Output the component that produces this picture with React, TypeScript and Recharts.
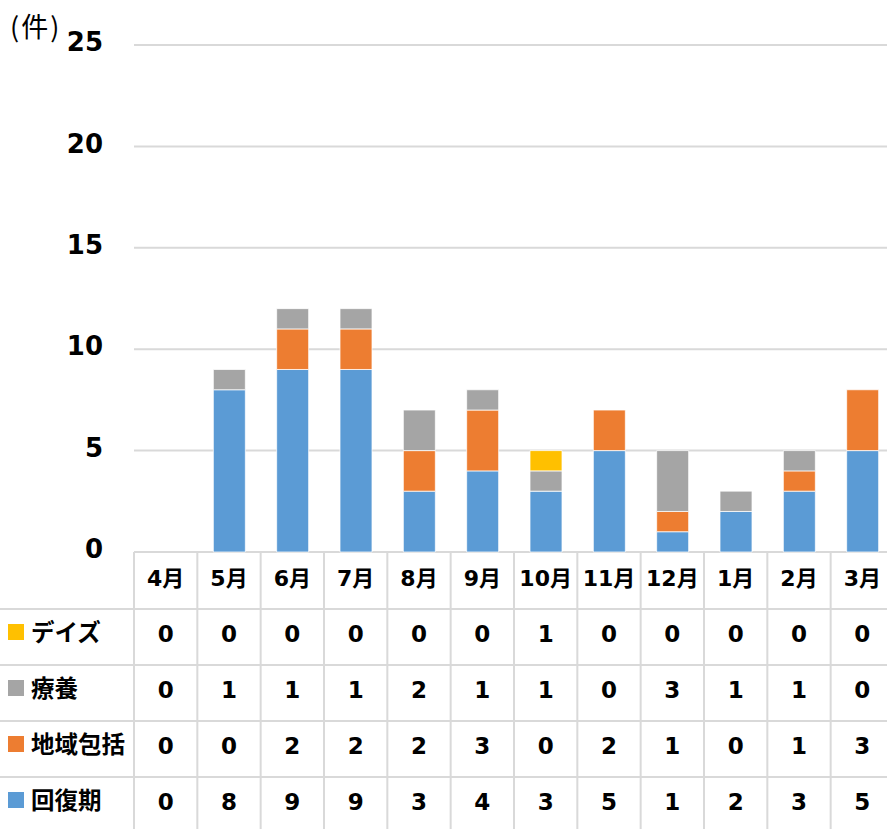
import React from 'react';
import { BarChart, Bar, XAxis, YAxis, CartesianGrid } from 'recharts';

const MONTHS = ['4月', '5月', '6月', '7月', '8月', '9月', '10月', '11月', '12月', '1月', '2月', '3月'];
const KAIFUKU = [0, 8, 9, 9, 3, 4, 3, 5, 1, 2, 3, 5];
const CHIIKI = [0, 0, 2, 2, 2, 3, 0, 2, 1, 0, 1, 3];
const RYOYO = [0, 1, 1, 1, 2, 1, 1, 0, 3, 1, 1, 0];
const DAYS = [0, 0, 0, 0, 0, 0, 1, 0, 0, 0, 0, 0];
const Y_TICKS = [0, 5, 10, 15, 20, 25];

// table rows, top to bottom (reverse of stacking order)
const SERIES = [
  { key: 'days', name: 'デイズ', color: '#FFC000', values: DAYS },
  { key: 'ryoyo', name: '療養', color: '#A5A5A5', values: RYOYO },
  { key: 'chiiki', name: '地域包括', color: '#ED7D31', values: CHIIKI },
  { key: 'kaifuku', name: '回復期', color: '#5B9BD5', values: KAIFUKU },
];

const data = MONTHS.map((m, i) => ({
  month: m,
  kaifuku: KAIFUKU[i],
  chiiki: CHIIKI[i],
  ryoyo: RYOYO[i],
  days: DAYS[i],
}));

const W = 894;
const H = 829;
const PLOT_LEFT = 134;
const PLOT_TOP = 45;
const TABLE_TOP = 552;
const HEADER_H = 57;
const ROW_H = 56;
const LINE = '#D9D9D9';
const NUM_FONT = "'DejaVu Sans', 'Noto Sans CJK JP', sans-serif";
const JP_FONT = "'Noto Sans CJK JP', sans-serif";

const YTick = ({ y, payload }: any) => (
  <text x={103} y={y - 3} dy="0.355em" textAnchor="end" fontFamily={NUM_FONT} fontWeight={700} fontSize={26} fill="#000">
    {payload.value}
  </text>
);

const XTick = ({ x, payload }: any) => {
  const i = payload.index;
  return (
    <g>
      <text x={x} y={TABLE_TOP + HEADER_H / 2 - 2} dy="0.355em" textAnchor="middle" fontFamily={NUM_FONT} fontWeight={700} fontSize={22} fill="#000">
        {MONTHS[i]}
      </text>
      {SERIES.map((s, r) => (
        <text
          key={s.key}
          x={x}
          y={TABLE_TOP + HEADER_H + ROW_H * r + ROW_H / 2 - 3}
          dy="0.355em"
          textAnchor="middle"
          fontFamily={NUM_FONT}
          fontWeight={700}
          fontSize={23}
          fill="#000"
        >
          {s.values[i]}
        </text>
      ))}
    </g>
  );
};

const TableOverlay = () => {
  const colW = (W - PLOT_LEFT) / MONTHS.length;
  return (
    <svg width={W} height={H} style={{ position: 'absolute', left: 0, top: 0, pointerEvents: 'none' }}>
      {MONTHS.map((m, i) => (
        <line key={m} x1={PLOT_LEFT + colW * i} x2={PLOT_LEFT + colW * i} y1={TABLE_TOP} y2={H} stroke={LINE} strokeWidth={2} />
      ))}
      {SERIES.map((s, r) => {
        const top = TABLE_TOP + HEADER_H + ROW_H * r;
        return (
          <g key={s.key}>
            <line x1={0} x2={W} y1={top} y2={top} stroke={LINE} strokeWidth={2} />
            <rect x={8} y={top + ROW_H / 2 - 13} width={16} height={16} fill={s.color} />
            <text x={31} y={top + ROW_H / 2 - 4} dy="0.355em" fontFamily={JP_FONT} fontWeight={700} fontSize={23.5} fill="#000">
              {s.name}
            </text>
          </g>
        );
      })}
      <text x={10} y={37} fontFamily={JP_FONT} fontSize={27} letterSpacing={2} fill="#000">
        (件)
      </text>
    </svg>
  );
};

export default function App() {
  return (
    <div style={{ position: 'absolute', left: 0, top: 0, width: 887, height: 829, overflow: 'hidden', background: '#fff' }}>
      <BarChart width={W} height={H} data={data} margin={{ top: PLOT_TOP, right: 0, bottom: 0, left: 0 }} barSize={32}>
        <CartesianGrid vertical={false} stroke={LINE} strokeWidth={2} />
        <XAxis dataKey="month" height={H - TABLE_TOP} axisLine={false} tickLine={false} tick={<XTick />} interval={0} />
        <YAxis width={PLOT_LEFT} domain={[0, 25]} ticks={Y_TICKS} axisLine={false} tickLine={false} tick={<YTick />} />
        <Bar dataKey="kaifuku" stackId="a" fill="#5B9BD5" stroke="#fff" strokeWidth={0.75} isAnimationActive={false} />
        <Bar dataKey="chiiki" stackId="a" fill="#ED7D31" stroke="#fff" strokeWidth={0.75} isAnimationActive={false} />
        <Bar dataKey="ryoyo" stackId="a" fill="#A5A5A5" stroke="#fff" strokeWidth={0.75} isAnimationActive={false} />
        <Bar dataKey="days" stackId="a" fill="#FFC000" stroke="#fff" strokeWidth={0.75} isAnimationActive={false} />
      </BarChart>
      <TableOverlay />
    </div>
  );
}
